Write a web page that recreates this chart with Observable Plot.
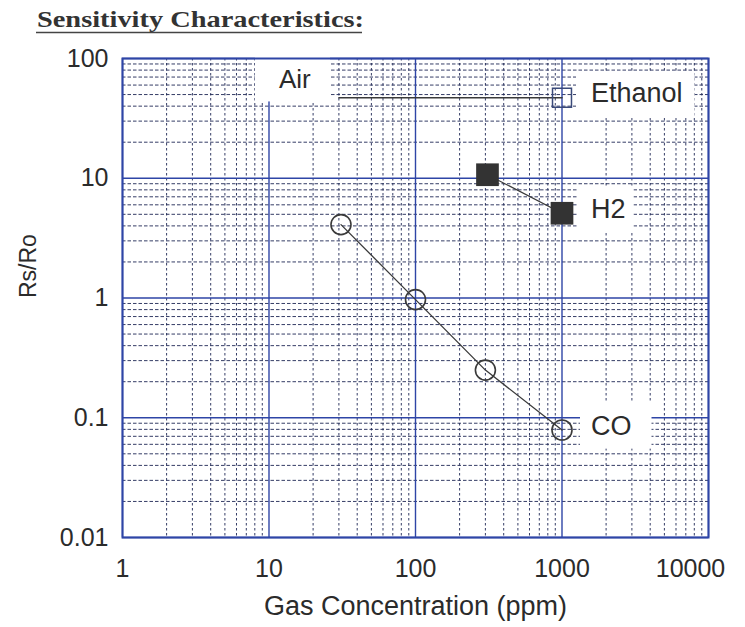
<!DOCTYPE html>
<html>
<head>
<meta charset="utf-8">
<script src="https://cdn.jsdelivr.net/npm/d3@7"></script>
<script src="https://cdn.jsdelivr.net/npm/@observablehq/plot@0.6"></script>
<style>
  body { margin: 0; background: #fff; }
  #title { height: 40px; }
  svg { display: block; }
</style>
</head>
<body>
<div id="title">
  <svg width="745" height="40">
    <text x="37" y="27" font-family="Liberation Serif, serif" font-weight="bold" font-size="24" fill="#333" textLength="327" lengthAdjust="spacingAndGlyphs">Sensitivity Characteristics:</text>
    <line x1="36" x2="362" y1="32.5" y2="32.5" stroke="#444" stroke-width="1.5"/>
  </svg>
</div>
<div id="chart"></div>
<script>
// ---- data ----
const xMajor = [1, 10, 100, 1000, 10000];
const yMajor = [0.01, 0.1, 1, 10, 100];
const xTickLabels = ["1", "10", "100", "1000", "10000"];
const yTickLabels = ["0.01", "0.1", "1", "10", "100"];

const coX = [31, 100, 300, 1000];
const coY = [4.1, 0.97, 0.25, 0.079];
const h2X = [310, 1000];
const h2Y = [10.7, 5.1];
const ethanolX = [30, 1000];
const ethanolY = [47, 47];

const seriesNames = ["Ethanol", "H2", "CO"];
const airLabel = {name: "Air", x: 15, y: 66};
const xTitle = "Gas Concentration (ppm)";
const yTitle = "Rs/Ro";

// ---- build tables ----
const co = coX.map((x, i) => ({x, y: coY[i]}));
const h2 = h2X.map((x, i) => ({x, y: h2Y[i]}));
const eth = ethanolX.map((x, i) => ({x, y: ethanolY[i]}));
const lastPts = [eth[eth.length - 1], h2[h2.length - 1], co[co.length - 1]]
  .map((p, i) => ({...p, name: seriesNames[i]}));

// minor grid positions (2..9 within each decade)
const minorX = xMajor.slice(0, -1).flatMap(d => d3.range(2, 10).map(k => d * k));
const minorY = yMajor.slice(0, -1).flatMap(d => d3.range(2, 10).map(k => d * k));

const BLUE = "#2e45a6";
const INK = "#2b2b2b";
const font = "Liberation Sans, Arial, Helvetica, sans-serif";

const chart = Plot.plot({
  width: 745,
  height: 587,
  marginLeft: 122,
  marginRight: 37,
  marginTop: 18,
  marginBottom: 90,
  style: {fontFamily: font, color: INK, background: "white"},
  x: {type: "log", domain: [1, 10000]},
  y: {type: "log", domain: [0.01, 100]},
  marks: [
    Plot.ruleX(minorX, {stroke: "#1f2855", strokeWidth: 1, strokeDasharray: "2.5,2.5", strokeOpacity: 0.9}),
    Plot.ruleY(minorY, {stroke: "#1f2855", strokeWidth: 1, strokeDasharray: "3.5,2", strokeOpacity: 0.9}),
    Plot.ruleX(xMajor, {stroke: BLUE, strokeWidth: 1.4}),
    Plot.ruleY(yMajor, {stroke: BLUE, strokeWidth: 1.4}),
    Plot.axisX({ticks: xMajor, tickFormat: (d) => xTickLabels[xMajor.indexOf(d)], tickSize: 0, tickPadding: 22, fontSize: 25, label: null, className: "xticks"}),
    Plot.axisY({ticks: yMajor, tickFormat: (d) => yTickLabels[yMajor.indexOf(d)], tickSize: 0, tickPadding: 14, fontSize: 25, label: null}),
    // series lines
    Plot.line(co, {x: "x", y: "y", stroke: "#3a3a3a", strokeWidth: 1.3}),
    Plot.line(h2, {x: "x", y: "y", stroke: "#3a3a3a", strokeWidth: 1.3}),
    Plot.line(eth, {x: "x", y: "y", stroke: "#3a3a3a", strokeWidth: 1.6}),
    // markers
    Plot.dot(co, {x: "x", y: "y", r: 10, stroke: "#3a3a3a", strokeWidth: 1.6, fill: "none"}),
    Plot.dot(h2, {x: "x", y: "y", r: 12.8, symbol: "square", fill: "#333", stroke: "none"}),
    Plot.dot([eth[eth.length - 1]], {x: "x", y: "y", r: 10.7, symbol: "square", stroke: "#3b4a7a", strokeWidth: 1.5, fill: "none"}),
    // labels
    Plot.text(lastPts, {x: "x", y: "y", text: "name", dx: 29, dy: -4, textAnchor: "start", fontSize: 27, fill: INK, className: "series-label"}),
    Plot.text([airLabel], {x: "x", y: "y", text: "name", textAnchor: "middle", fontSize: 26, fill: INK, className: "series-label"}),
    // axis titles
    Plot.text([xTitle], {frameAnchor: "bottom", dy: 77, fontSize: 27, fill: INK}),
    Plot.text([yTitle], {frameAnchor: "left", dx: -94, rotate: -90, fontSize: 23, fill: INK}),
    Plot.frame({stroke: BLUE, strokeWidth: 2})
  ]
});

document.getElementById("chart").append(chart);

// the right-most tick label sits a little inside the frame edge
const xt = chart.querySelectorAll("g.xticks text");
if (xt.length) {
  const last = xt[xt.length - 1];
  const tr = last.getAttribute("transform");
  last.setAttribute("transform", (tr ? tr + " " : "") + "translate(-18,0)");
}

// white boxes behind the in-plot labels
const pads = {
  Air: [40, 19, 7, 24],
  Ethanol: [6, 12, 8, 15],
  H2: [6, 8, 8, 14],
  CO: [8, 20, 8, 11]
};
chart.querySelectorAll("g.series-label text").forEach(t => {
  const b = t.getBBox();
  const p = pads[t.textContent] || [6, 15, 6, 15];
  const ns = "http://www.w3.org/2000/svg";
  const r = document.createElementNS(ns, "rect");
  r.setAttribute("x", b.x - p[3]);
  r.setAttribute("y", b.y - p[0]);
  r.setAttribute("width", b.width + p[1] + p[3]);
  r.setAttribute("height", b.height + p[0] + p[2]);
  r.setAttribute("fill", "white");
  r.setAttribute("stroke", "none");
  if (t.getAttribute("transform")) r.setAttribute("transform", t.getAttribute("transform"));
  t.parentNode.insertBefore(r, t);
});
</script>
</body>
</html>
